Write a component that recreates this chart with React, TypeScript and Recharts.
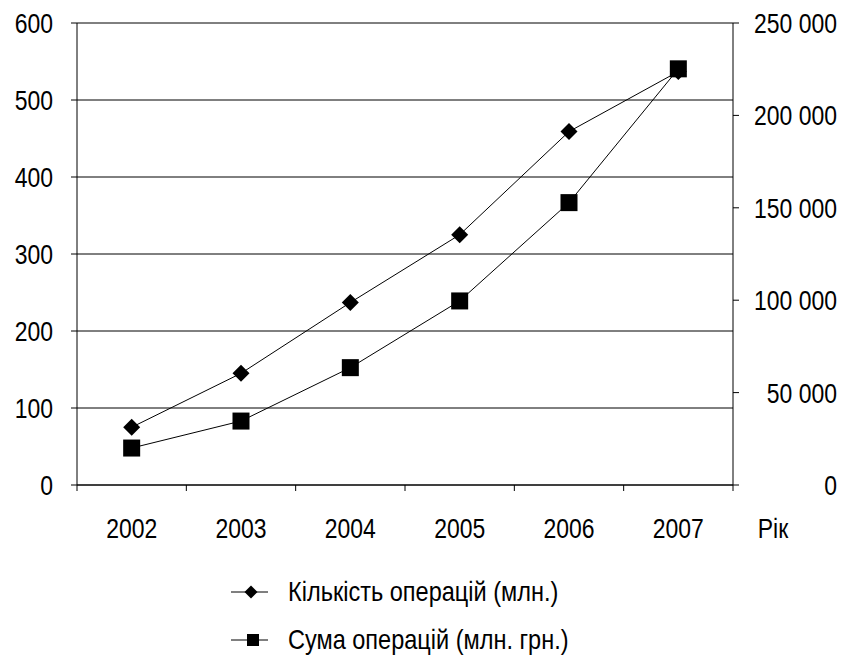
import { LineChart, Line, XAxis, YAxis, CartesianGrid, Legend } from "recharts";

const YEARS = ["2002", "2003", "2004", "2005", "2006", "2007"];
const COUNT = [75, 145, 237, 325, 459, 537];
const SUM = [20000, 34600, 63500, 99600, 152800, 225200];
const LEFT_TICKS = [0, 100, 200, 300, 400, 500, 600];
const RIGHT_TICKS = [0, 50000, 100000, 150000, 200000, 250000];
const BOUNDARY_TICKS = [0, 1, 2, 3, 4, 5, 6];

const COUNT_NAME = "Кількість операцій (млн.)";
const SUM_NAME = "Сума операцій (млн. грн.)";

const data = YEARS.map((year, i) => ({ year, count: COUNT[i], sum: SUM[i] }));

// no narrow font installed, so squeeze Liberation Sans horizontally
const FONT = "'Liberation Sans', Arial, sans-serif";
const FS = 28;
const SQUEEZE = 0.82;

const fmtThousands = (v: number) => String(v).replace(/\B(?=(\d{3})+(?!\d))/g, " ");

function NarrowText({ x, y, anchor, dy, children }: any) {
  return (
    <text
      transform={`translate(${x},${y}) scale(${SQUEEZE},1)`}
      dy={dy}
      textAnchor={anchor}
      fill="#000"
      fontSize={FS}
      fontFamily={FONT}
    >
      {children}
    </text>
  );
}

function Diamond(props: any) {
  const { cx, cy } = props;
  if (cx == null || cy == null) return null;
  const r = 8.5;
  return <polygon points={`${cx},${cy - r} ${cx + r},${cy} ${cx},${cy + r} ${cx - r},${cy}`} fill="#000" />;
}

function Square(props: any) {
  const { cx, cy } = props;
  if (cx == null || cy == null) return null;
  const r = 8.5;
  return <rect x={cx - r} y={cy - r} width={r * 2} height={r * 2} fill="#000" />;
}

function LeftTick(props: any) {
  const { x, y, payload } = props;
  return <NarrowText x={x} y={y} dy="0.36em" anchor="end">{payload.value}</NarrowText>;
}

function RightTick(props: any) {
  const { x, y, payload } = props;
  return <NarrowText x={x} y={y} dy="0.36em" anchor="end">{fmtThousands(payload.value)}</NarrowText>;
}

function YearTick(props: any) {
  const { x, y, payload } = props;
  return <NarrowText x={x} y={y} dy="0.71em" anchor="middle">{payload.value}</NarrowText>;
}

function YearLabel(props: any) {
  const { viewBox } = props;
  if (!viewBox) return null;
  return (
    <NarrowText x={viewBox.x + viewBox.width + 40} y={viewBox.y + 27} dy="0.71em" anchor="middle">
      Рік
    </NarrowText>
  );
}

function LegendBox() {
  const rows = [
    { name: COUNT_NAME, shape: "diamond" },
    { name: SUM_NAME, shape: "square" },
  ];
  return (
    <div style={{ fontFamily: FONT, fontSize: FS, color: "#000" }}>
      {rows.map((r) => (
        <div key={r.name} style={{ display: "flex", alignItems: "center", height: 48, whiteSpace: "nowrap" }}>
          <svg width={40} height={20} style={{ marginRight: 18, flex: "none" }}>
            <line x1={1} y1={10} x2={38} y2={10} stroke="#000" strokeWidth={1} />
            {r.shape === "diamond" ? (
              <polygon points="21,3.5 27.5,10 21,16.5 14.5,10" fill="#000" />
            ) : (
              <rect x={17} y={4} width={12} height={12} fill="#000" />
            )}
          </svg>
          <span style={{ display: "inline-block", transform: `scaleX(0.84)`, transformOrigin: "left center" }}>
            {r.name}
          </span>
        </div>
      ))}
    </div>
  );
}

export default function App() {
  return (
    <div style={{ position: "absolute", left: 0, top: 0, width: 842, height: 664, background: "#fff" }}>
      <LineChart width={842} height={664} data={data} margin={{ top: 23, right: 0, bottom: 0, left: 0 }}>
        <CartesianGrid xAxisId={1} yAxisId="left" vertical={false} stroke="#000" strokeWidth={1} />
        {/* tick marks between the years: numeric axis over the 6 category slots */}
        <XAxis
          xAxisId={0}
          type="number"
          dataKey="count"
          domain={[0, 6]}
          allowDataOverflow
          ticks={BOUNDARY_TICKS}
          tickFormatter={() => ""}
          height={6}
          tickSize={6}
          axisLine={{ stroke: "#000" }}
          tickLine={{ stroke: "#000" }}
        />
        <XAxis
          xAxisId={1}
          dataKey="year"
          scale="band"
          height={173}
          axisLine={false}
          tickLine={false}
          tickSize={6}
          tickMargin={21}
          tick={<YearTick />}
          label={<YearLabel />}
        />
        <YAxis
          yAxisId="left"
          width={77}
          domain={[0, 600]}
          ticks={LEFT_TICKS}
          tickSize={6}
          tickMargin={18}
          axisLine={{ stroke: "#000" }}
          tickLine={{ stroke: "#000" }}
          tick={<LeftTick />}
        />
        <YAxis
          yAxisId="right"
          orientation="right"
          width={109}
          domain={[0, 250000]}
          ticks={RIGHT_TICKS}
          tickSize={6}
          tickMargin={98}
          axisLine={{ stroke: "#000" }}
          tickLine={{ stroke: "#000" }}
          tick={<RightTick />}
        />
        <Line
          xAxisId={1}
          yAxisId="left"
          dataKey="count"
          name={COUNT_NAME}
          stroke="#000"
          strokeWidth={1}
          dot={<Diamond />}
          activeDot={false}
          isAnimationActive={false}
        />
        <Line
          xAxisId={1}
          yAxisId="right"
          dataKey="sum"
          name={SUM_NAME}
          stroke="#000"
          strokeWidth={1}
          dot={<Square />}
          activeDot={false}
          isAnimationActive={false}
        />
        <Legend
          layout="vertical"
          align="center"
          verticalAlign="middle"
          content={<LegendBox />}
          wrapperStyle={{ top: 568, left: 230, width: 400, height: 96 }}
        />
      </LineChart>
    </div>
  );
}
